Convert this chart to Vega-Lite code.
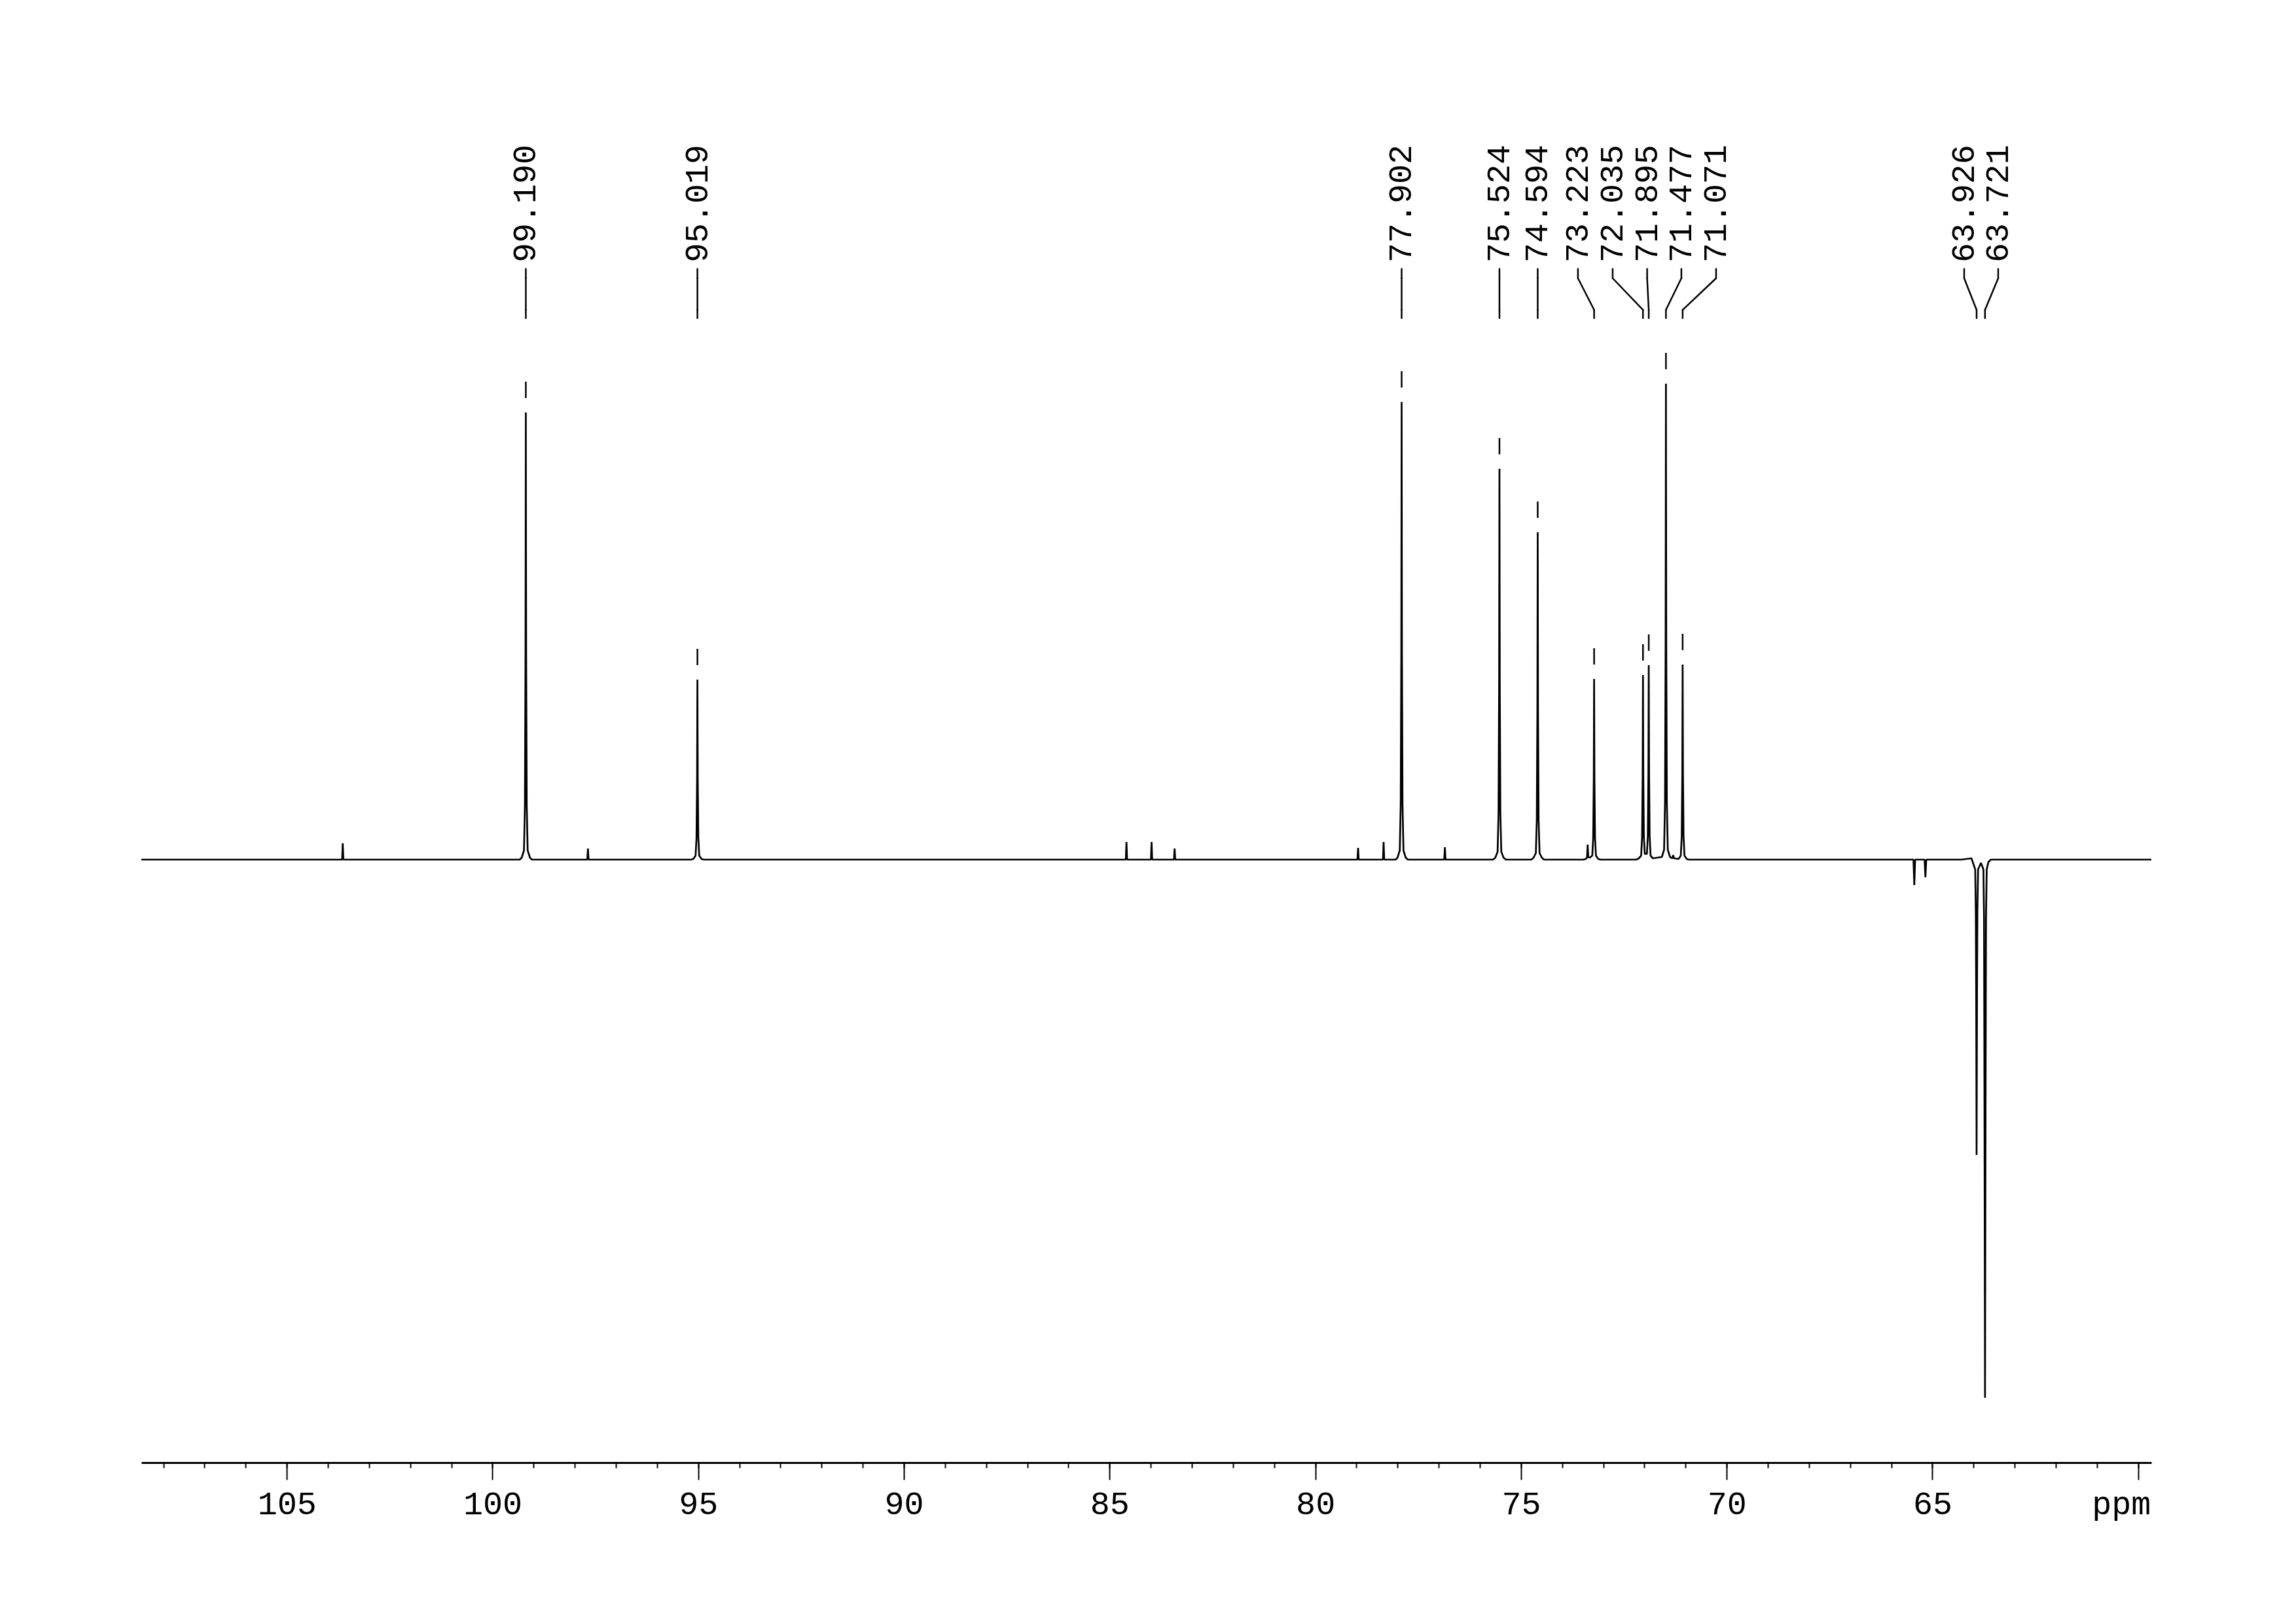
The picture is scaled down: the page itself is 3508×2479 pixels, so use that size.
{
  "$schema": "https://vega.github.io/schema/vega-lite/v6.json",
  "width": 3071,
  "height": 2134,
  "autosize": "none",
  "padding": {"left": 216, "top": 100, "right": 221, "bottom": 245},
  "background": "white",
  "config": {"view": {"stroke": null}, "axis": {"grid": false}},
  "datasets": {
    "spectrum": [
      {"ppm": 108.535, "intensity": 0}, {"ppm": 106.8, "intensity": 0}, {"ppm": 104.5, "intensity": 0},
      {"ppm": 103.655, "intensity": 0}, {"ppm": 103.64, "intensity": 25}, {"ppm": 103.625, "intensity": 0},
      {"ppm": 101.5, "intensity": 0}, {"ppm": 99.34, "intensity": 0},
      {"ppm": 99.29, "intensity": 3}, {"ppm": 99.235, "intensity": 14}, {"ppm": 99.212, "intensity": 82}, {"ppm": 99.198, "intensity": 307}, {"ppm": 99.19, "intensity": 683}, {"ppm": 99.182, "intensity": 307}, {"ppm": 99.168, "intensity": 82}, {"ppm": 99.145, "intensity": 14}, {"ppm": 99.09, "intensity": 3},
      {"ppm": 99.04, "intensity": 0}, {"ppm": 98.9, "intensity": 0},
      {"ppm": 97.695, "intensity": 0}, {"ppm": 97.68, "intensity": 17}, {"ppm": 97.665, "intensity": 0},
      {"ppm": 96.0, "intensity": 0}, {"ppm": 95.17, "intensity": 0},
      {"ppm": 95.119, "intensity": 1}, {"ppm": 95.064, "intensity": 6}, {"ppm": 95.041, "intensity": 33}, {"ppm": 95.027, "intensity": 124}, {"ppm": 95.019, "intensity": 275}, {"ppm": 95.011, "intensity": 124}, {"ppm": 94.997, "intensity": 33}, {"ppm": 94.974, "intensity": 6}, {"ppm": 94.919, "intensity": 1},
      {"ppm": 94.87, "intensity": 0}, {"ppm": 94.7, "intensity": 0}, {"ppm": 91.0, "intensity": 0}, {"ppm": 87.0, "intensity": 0},
      {"ppm": 84.605, "intensity": 0}, {"ppm": 84.59, "intensity": 27}, {"ppm": 84.575, "intensity": 0},
      {"ppm": 83.995, "intensity": 0}, {"ppm": 83.98, "intensity": 27}, {"ppm": 83.965, "intensity": 0},
      {"ppm": 83.435, "intensity": 0}, {"ppm": 83.42, "intensity": 17}, {"ppm": 83.405, "intensity": 0},
      {"ppm": 81.0, "intensity": 0},
      {"ppm": 78.975, "intensity": 0}, {"ppm": 78.96, "intensity": 18}, {"ppm": 78.945, "intensity": 0},
      {"ppm": 78.355, "intensity": 0}, {"ppm": 78.34, "intensity": 27}, {"ppm": 78.325, "intensity": 0},
      {"ppm": 78.05, "intensity": 0},
      {"ppm": 78.002, "intensity": 3}, {"ppm": 77.947, "intensity": 14}, {"ppm": 77.924, "intensity": 84}, {"ppm": 77.91, "intensity": 315}, {"ppm": 77.902, "intensity": 699}, {"ppm": 77.894, "intensity": 315}, {"ppm": 77.88, "intensity": 84}, {"ppm": 77.857, "intensity": 14}, {"ppm": 77.802, "intensity": 3},
      {"ppm": 77.75, "intensity": 0}, {"ppm": 77.6, "intensity": 0},
      {"ppm": 76.865, "intensity": 0}, {"ppm": 76.85, "intensity": 19}, {"ppm": 76.835, "intensity": 0},
      {"ppm": 75.8, "intensity": 0}, {"ppm": 75.68, "intensity": 0},
      {"ppm": 75.624, "intensity": 3}, {"ppm": 75.569, "intensity": 12}, {"ppm": 75.546, "intensity": 72}, {"ppm": 75.532, "intensity": 269}, {"ppm": 75.524, "intensity": 597}, {"ppm": 75.516, "intensity": 269}, {"ppm": 75.502, "intensity": 72}, {"ppm": 75.479, "intensity": 12}, {"ppm": 75.424, "intensity": 3},
      {"ppm": 75.37, "intensity": 0}, {"ppm": 75.2, "intensity": 0}, {"ppm": 74.75, "intensity": 0},
      {"ppm": 74.694, "intensity": 3}, {"ppm": 74.639, "intensity": 10}, {"ppm": 74.616, "intensity": 60}, {"ppm": 74.602, "intensity": 225}, {"ppm": 74.594, "intensity": 500}, {"ppm": 74.586, "intensity": 225}, {"ppm": 74.572, "intensity": 60}, {"ppm": 74.549, "intensity": 10}, {"ppm": 74.494, "intensity": 3},
      {"ppm": 74.44, "intensity": 0}, {"ppm": 74.2, "intensity": 0}, {"ppm": 73.48, "intensity": 0},
      {"ppm": 73.43, "intensity": 1}, {"ppm": 73.395, "intensity": 3}, {"ppm": 73.38, "intensity": 23}, {"ppm": 73.365, "intensity": 4}, {"ppm": 73.33, "intensity": 3},
      {"ppm": 73.268, "intensity": 6}, {"ppm": 73.245, "intensity": 33}, {"ppm": 73.231, "intensity": 124}, {"ppm": 73.223, "intensity": 276}, {"ppm": 73.215, "intensity": 124}, {"ppm": 73.201, "intensity": 33}, {"ppm": 73.178, "intensity": 6}, {"ppm": 73.123, "intensity": 1},
      {"ppm": 73.07, "intensity": 0}, {"ppm": 72.4, "intensity": 0}, {"ppm": 72.2, "intensity": 0},
      {"ppm": 72.135, "intensity": 2}, {"ppm": 72.08, "intensity": 6}, {"ppm": 72.057, "intensity": 34}, {"ppm": 72.043, "intensity": 127}, {"ppm": 72.035, "intensity": 282}, {"ppm": 72.027, "intensity": 127}, {"ppm": 72.013, "intensity": 34}, {"ppm": 71.99, "intensity": 8}, {"ppm": 71.965, "intensity": 10},
      {"ppm": 71.94, "intensity": 8}, {"ppm": 71.917, "intensity": 36}, {"ppm": 71.903, "intensity": 134}, {"ppm": 71.895, "intensity": 297}, {"ppm": 71.887, "intensity": 134}, {"ppm": 71.873, "intensity": 36}, {"ppm": 71.85, "intensity": 6}, {"ppm": 71.795, "intensity": 2},
      {"ppm": 71.577, "intensity": 4}, {"ppm": 71.522, "intensity": 15}, {"ppm": 71.499, "intensity": 87}, {"ppm": 71.485, "intensity": 327}, {"ppm": 71.477, "intensity": 727}, {"ppm": 71.469, "intensity": 327}, {"ppm": 71.455, "intensity": 87}, {"ppm": 71.432, "intensity": 15}, {"ppm": 71.377, "intensity": 4},
      {"ppm": 71.32, "intensity": 2}, {"ppm": 71.3, "intensity": 7}, {"ppm": 71.28, "intensity": 2},
      {"ppm": 71.171, "intensity": 1}, {"ppm": 71.116, "intensity": 6}, {"ppm": 71.093, "intensity": 36}, {"ppm": 71.079, "intensity": 134}, {"ppm": 71.071, "intensity": 298}, {"ppm": 71.063, "intensity": 134}, {"ppm": 71.049, "intensity": 36}, {"ppm": 71.026, "intensity": 6}, {"ppm": 70.971, "intensity": 1},
      {"ppm": 70.92, "intensity": 0}, {"ppm": 70.7, "intensity": 0}, {"ppm": 68.0, "intensity": 0}, {"ppm": 66.0, "intensity": 0},
      {"ppm": 65.46, "intensity": 0}, {"ppm": 65.44, "intensity": -39}, {"ppm": 65.42, "intensity": 0},
      {"ppm": 65.19, "intensity": 0}, {"ppm": 65.17, "intensity": -27}, {"ppm": 65.15, "intensity": 0},
      {"ppm": 64.3, "intensity": 0}, {"ppm": 64.05, "intensity": 2},
      {"ppm": 63.96, "intensity": -15}, {"ppm": 63.945, "intensity": -80}, {"ppm": 63.936, "intensity": -210}, {"ppm": 63.926, "intensity": -451}, {"ppm": 63.916, "intensity": -210}, {"ppm": 63.907, "intensity": -80}, {"ppm": 63.89, "intensity": -15},
      {"ppm": 63.82, "intensity": -5},
      {"ppm": 63.76, "intensity": -15}, {"ppm": 63.745, "intensity": -90}, {"ppm": 63.734, "intensity": -385}, {"ppm": 63.721, "intensity": -822}, {"ppm": 63.708, "intensity": -385}, {"ppm": 63.697, "intensity": -90}, {"ppm": 63.68, "intensity": -15}, {"ppm": 63.64, "intensity": -4},
      {"ppm": 63.58, "intensity": 0}, {"ppm": 62.0, "intensity": 0}, {"ppm": 59.678, "intensity": 0}
    ],
    "peaks": [
      {"ppm": 99.19, "height": 683, "lp": 99.19},
      {"ppm": 95.019, "height": 275, "lp": 95.019},
      {"ppm": 77.902, "height": 699, "lp": 77.902},
      {"ppm": 75.524, "height": 597, "lp": 75.524},
      {"ppm": 74.594, "height": 500, "lp": 74.594},
      {"ppm": 73.223, "height": 276, "lp": 73.616},
      {"ppm": 72.035, "height": 282, "lp": 72.772},
      {"ppm": 71.895, "height": 297, "lp": 71.934},
      {"ppm": 71.477, "height": 727, "lp": 71.102},
      {"ppm": 71.071, "height": 298, "lp": 70.258},
      {"ppm": 63.926, "height": -451, "lp": 64.228},
      {"ppm": 63.721, "height": -822, "lp": 63.401}
    ]
  },
  "layer": [
    {
      "data": {"name": "spectrum"},
      "mark": {"type": "line", "color": "black", "strokeWidth": 2.7, "strokeJoin": "bevel"},
      "encoding": {
        "x": {
          "field": "ppm", "type": "quantitative",
          "scale": {"domain": [59.678, 108.535], "reverse": true, "nice": false, "zero": false},
          "axis": {
            "orient": "bottom", "values": [105, 100, 95, 90, 85, 80, 75, 70, 65, 60], "title": null,
            "domainColor": "black", "domainWidth": 3, "tickColor": "black", "tickWidth": 2, "tickSize": 26,
            "labelFont": "Liberation Mono", "labelFontSize": 50, "labelColor": "black", "labelPadding": 52,
            "labelBaseline": "alphabetic", "labelFlush": false, "labelOverlap": false, "labelBound": false,
            "labelExpr": "datum.value == 60 ? 'ppm' : datum.label",
            "labelOffset": {"condition": {"test": "datum.value == 60", "value": -26}, "value": 0}
          }
        },
        "y": {"field": "intensity", "type": "quantitative", "scale": {"domain": [-921, 1213], "nice": false, "zero": false}, "axis": null}
      }
    },
    {
      "data": {"name": "peaks"},
      "transform": [{"filter": "datum.height > 0"}],
      "mark": {"type": "tick", "orient": "vertical", "color": "black", "opacity": 1, "size": 25, "thickness": 2.5, "yOffset": -34.5},
      "encoding": {
        "x": {
          "field": "ppm", "type": "quantitative",
          "scale": {"domain": [59.678, 108.535], "reverse": true, "nice": false, "zero": false},
          "axis": {
            "orient": "bottom", "title": null, "domain": false, "labels": false, "tickColor": "black", "tickWidth": 2, "tickSize": 8,
            "values": [60,61,62,63,64,65,66,67,68,69,70,71,72,73,74,75,76,77,78,79,80,81,82,83,84,85,86,87,88,89,90,91,92,93,94,95,96,97,98,99,100,101,102,103,104,105,106,107,108]
          }
        },
        "y": {"field": "height", "type": "quantitative", "scale": {"domain": [-921, 1213], "nice": false, "zero": false}, "axis": null}
      }
    },
    {
      "data": {"name": "peaks"},
      "mark": {"type": "text", "angle": 270, "align": "left", "baseline": "middle", "font": "Liberation Mono", "fontSize": 50, "color": "black"},
      "encoding": {
        "x": {"field": "lp", "type": "quantitative", "scale": {"domain": [59.678, 108.535], "reverse": true, "nice": false, "zero": false}, "axis": null},
        "y": {"datum": 912, "type": "quantitative", "scale": {"domain": [-921, 1213], "nice": false, "zero": false}, "axis": null},
        "text": {"field": "ppm", "type": "quantitative", "format": ".3f"}
      }
    },
    {
      "data": {"name": "peaks"},
      "mark": {"type": "rule", "color": "black", "strokeWidth": 2.5, "strokeCap": "round"},
      "encoding": {
        "x": {"field": "lp", "type": "quantitative", "scale": {"domain": [59.678, 108.535], "reverse": true, "nice": false, "zero": false}, "axis": null},
        "y": {"datum": 902.3, "type": "quantitative", "scale": {"domain": [-921, 1213], "nice": false, "zero": false}, "axis": null},
        "y2": {"datum": 888}
      }
    },
    {
      "data": {"name": "peaks"},
      "mark": {"type": "rule", "color": "black", "strokeWidth": 2.5, "strokeCap": "round"},
      "encoding": {
        "x": {"field": "lp", "type": "quantitative", "scale": {"domain": [59.678, 108.535], "reverse": true, "nice": false, "zero": false}, "axis": null},
        "x2": {"field": "ppm"},
        "y": {"datum": 888, "type": "quantitative", "scale": {"domain": [-921, 1213], "nice": false, "zero": false}, "axis": null},
        "y2": {"datum": 839.7}
      }
    },
    {
      "data": {"name": "peaks"},
      "mark": {"type": "rule", "color": "black", "strokeWidth": 2.5, "strokeCap": "round"},
      "encoding": {
        "x": {"field": "ppm", "type": "quantitative", "scale": {"domain": [59.678, 108.535], "reverse": true, "nice": false, "zero": false}, "axis": null},
        "y": {"datum": 839.7, "type": "quantitative", "scale": {"domain": [-921, 1213], "nice": false, "zero": false}, "axis": null},
        "y2": {"datum": 827}
      }
    }
  ],
  "resolve": {"axis": {"x": "independent"}}
}
